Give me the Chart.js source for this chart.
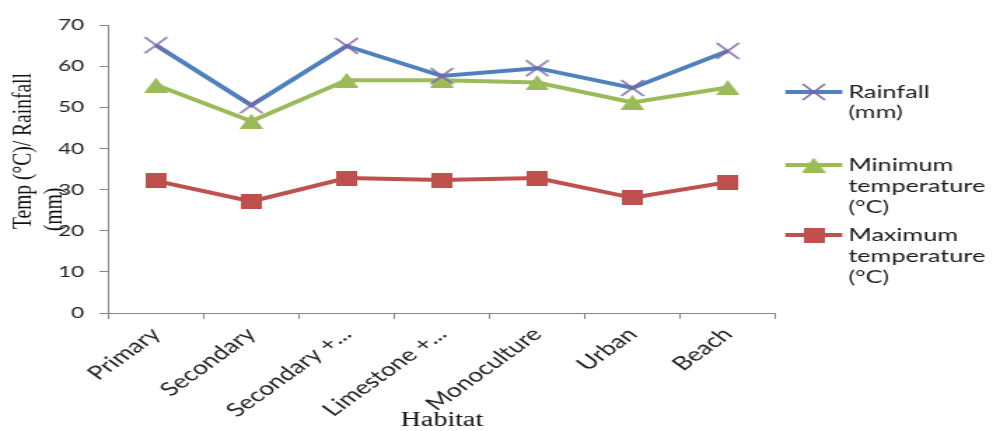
<!DOCTYPE html>
<html><head><meta charset="utf-8">
<script src="https://cdn.jsdelivr.net/npm/chart.js@4.4.1/dist/chart.umd.min.js"></script>
<style>
html,body{margin:0;padding:0;background:#fff;overflow:hidden;width:993px;height:431px;}
#wrap{position:absolute;left:0;top:0;width:709px;height:431px;transform:scaleX(1.4006);transform-origin:0 0;}
canvas{display:block;}
</style></head><body>
<div id="wrap"><canvas id="c"></canvas></div>
<script>
// ---- data ----
const categories = ['Primary', 'Secondary', 'Secondary +...', 'Limestone +...', 'Monoculture', 'Urban', 'Beach'];
const rainfall = [65.1, 50.5, 64.9, 57.6, 59.5, 54.7, 63.7];
const minTemp  = [55.4, 46.6, 56.6, 56.6, 56.0, 51.2, 54.8];
const maxTemp  = [32.1, 27.1, 32.8, 32.3, 32.8, 28.0, 31.8];
const seriesNames = [['Rainfall', '(mm)'], ['Minimum', 'temperature', '(°C)'], ['Maximum', 'temperature', '(°C)']];
const yMin = 0, yMax = 70, yStep = 10;
const yTitle = ['Temp (°C)/ Rainfall', '(mm)'];
const xTitle = 'Habitat';

// ---- marker images ----
function mk(w, h, draw) {
  const c = document.createElement('canvas');
  c.width = w; c.height = h;
  draw(c.getContext('2d'), w, h);
  return c;
}
const crossImg = mk(18, 18, (g, w, h) => {
  g.strokeStyle = '#7F62A8'; g.lineWidth = 1.6;
  g.beginPath(); g.moveTo(1, 1); g.lineTo(w - 1, h - 1); g.moveTo(w - 1, 1); g.lineTo(1, h - 1); g.stroke();
});
const triImg = mk(17, 15, (g, w, h) => {
  g.fillStyle = '#9BBB59';
  g.beginPath(); g.moveTo(w / 2, 0); g.lineTo(w, h); g.lineTo(0, h); g.closePath(); g.fill();
});
const sqImg = mk(15, 15, (g, w, h) => {
  g.fillStyle = '#C0504D'; g.fillRect(0, 0, w, h);
});

const colors = ['#4F81BD', '#9BBB59', '#C0504D'];
const markers = [crossImg, triImg, sqImg];

const extras = {
  id: 'extras',
  afterDraw(chart) {
    const ctx = chart.ctx;
    // y axis title
    ctx.save();
    ctx.fillStyle = '#111';
    ctx.font = '19.5px "Liberation Serif"';
    ctx.textAlign = 'left';
    ctx.textBaseline = 'middle';
    const tx = [16.4, 39.3], ty = [229, 231];
    yTitle.forEach((t, i) => {
      ctx.save();
      ctx.translate(tx[i], ty[i]);
      ctx.rotate(-Math.PI / 2);
      ctx.fillText(t, 0, 0);
      ctx.restore();
    });
    ctx.restore();
    // legend
    ctx.save();
    const lx0 = 560.7, lx1 = 601.4, txx = 605.7;
    const ys = [92, 165, 235];
    const lh = [20, 21, 21];
    ctx.font = '18px Lato';
    ctx.textAlign = 'left';
    ctx.textBaseline = 'middle';
    seriesNames.forEach((lines, i) => {
      ctx.strokeStyle = colors[i];
      ctx.lineWidth = 4;
      ctx.beginPath(); ctx.moveTo(lx0, ys[i]); ctx.lineTo(lx1, ys[i]); ctx.stroke();
      const m = markers[i];
      ctx.drawImage(m, (lx0 + lx1) / 2 - m.width / 2, ys[i] - m.height / 2);
      ctx.fillStyle = '#1a1a1a';
      lines.forEach((t, j) => ctx.fillText(t, txx, ys[i] + j * lh[i]));
    });
    ctx.restore();
  }
};

const mkDs = (label, data, i) => ({
  label, data,
  borderColor: colors[i], backgroundColor: colors[i],
  borderWidth: 4, tension: 0,
  pointStyle: markers[i], pointRadius: 8, pointHoverRadius: 8,
  clip: false
});

new Chart(document.getElementById('c'), {
  type: 'line',
  data: {
    labels: categories,
    datasets: [
      mkDs(seriesNames[0].join(' '), rainfall, 0),
      mkDs(seriesNames[1].join(' '), minTemp, 1),
      mkDs(seriesNames[2].join(' '), maxTemp, 2)
    ]
  },
  options: {
    responsive: true,
    maintainAspectRatio: false,
    animation: false,
    layout: { padding: { top: 25, right: 155.4, left: 0, bottom: 0 } },
    plugins: { legend: { display: false }, tooltip: { enabled: false } },
    scales: {
      x: {
        type: 'category',
        offset: true,
        grid: { display: true, drawOnChartArea: false, drawTicks: true, tickLength: 6, color: '#868686', offset: true },
        border: { color: '#868686', width: 1 },
        ticks: { font: { family: 'Lato', size: 19 }, color: '#222', minRotation: 45, maxRotation: 45, autoSkip: false, padding: 4 },
        title: { display: true, text: xTitle, font: { family: 'Liberation Serif', size: 20, lineHeight: 1 }, color: '#111', padding: 0 },
        afterFit(s) { s.height = 118; }
      },
      y: {
        min: yMin, max: yMax,
        ticks: { stepSize: yStep, font: { family: 'Lato', size: 16 }, color: '#222', padding: 11 },
        grid: { display: true, drawOnChartArea: false, drawTicks: true, tickLength: 6.4, color: '#868686' },
        border: { color: '#868686', width: 1 },
        afterFit(s) { s.width = 77.4; }
      }
    }
  },
  plugins: [extras]
});
</script>
</body></html>
